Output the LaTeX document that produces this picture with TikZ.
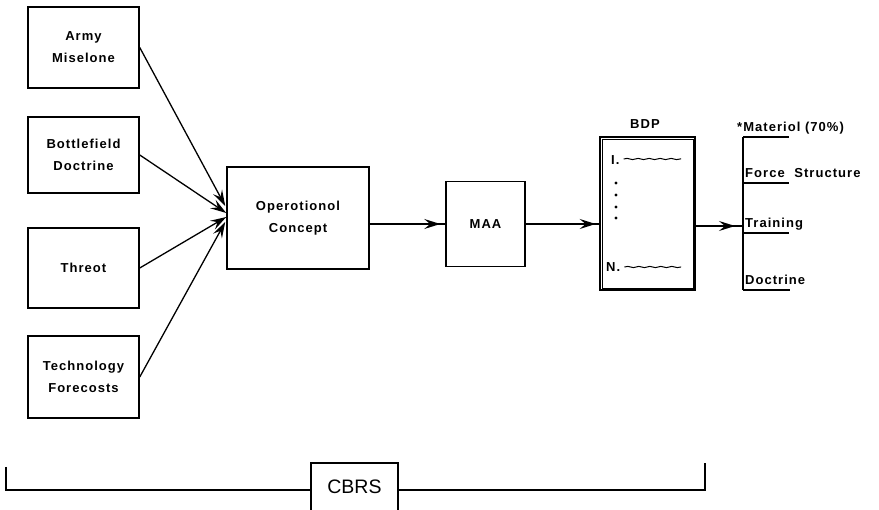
\documentclass[tikz,border=0pt]{standalone}
\usepackage{fontspec}
\setmainfont{Liberation Sans}
\newfontfamily\plotfont[LetterSpace=8]{Liberation Sans}
\usetikzlibrary{arrows.meta,calc,decorations.pathmorphing,decorations.markings}

\newcommand\lblfont{\plotfont\bfseries\fontsize{13pt}{22pt}\selectfont}

\begin{document}
\begin{tikzpicture}[x=1pt,y=-1pt,
  box/.style={draw, line width=1.5pt, inner sep=0pt, align=center, font=\lblfont},
  lbl/.style={inner sep=0pt, font=\lblfont},
  link/.style={line width=1.3pt},
  tip/.style={-{Stealth[length=16pt,width=10pt,inset=6pt]}},
  midtip/.style={postaction={decorate}, decoration={markings,
      mark=at position #1 with {\arrow{Stealth[length=16pt,width=10pt,inset=6pt]}}}},
  wave/.style={line width=1pt, decorate,
      decoration={snake, amplitude=0.6pt, segment length=11pt}}]
\useasboundingbox (0,0) rectangle (879,510);

% input boxes
\node[box, minimum width=111pt, minimum height=81pt] (army) at (83.5,47.5) {Army\\Miselone};
\node[box, minimum width=111pt, minimum height=76pt] (field) at (83.5,155) {Bottlefield\\Doctrine};
\node[box, minimum width=111pt, minimum height=80pt] (threat) at (83.5,268) {Threot};
\node[box, minimum width=111pt, minimum height=82pt] (tech) at (83.5,377) {Technology\\Forecosts};

% main chain
\node[box, minimum width=142pt, minimum height=102pt] (opc) at (298,218) {Operotionol\\Concept};
\node[box, minimum width=79pt, minimum height=85pt] (maa) at (485.5,224) {MAA};
\node[draw, line width=2.6pt, minimum width=95pt, minimum height=153pt, inner sep=0pt] (bdp) at (647.5,213.5) {};
\draw[line width=0.7pt] ($(bdp.north west)+(3.4,3.4)$) rectangle ($(bdp.south east)+(-3.4,-3.4)$);
\node[lbl, anchor=base] (bdplbl) at (645,129) {BDP};

% contents of the BDP list
\node[lbl, anchor=west] (item1) at (611,160) {I.};
\coordinate (item1end) at (681,159);
\draw[wave] ($(item1.east)+(4,-1)$) -- (item1end);
\foreach \yy in {183,195,207,218} \fill (616,\yy) circle (1.6pt);
\node[lbl, anchor=west] (itemN) at (606,267) {N.};
\coordinate (itemNend) at (681,267);
\draw[wave] ($(itemN.east)+(4,0)$) -- (itemNend);

% converging inputs
\draw[link, tip] (army.east) -- ($(opc.west)+(-1,-12)$);
\draw[link, tip] (field.east) -- ($(opc.west)+(0,-5)$);
\draw[link, tip] (threat.east) -- ($(opc.west)+(0,-1)$);
\draw[link, tip] (tech.east) -- ($(opc.west)+(-1,4)$);

% chain connectors
\draw[link, midtip=-5pt] (opc.east |- maa.west) -- (maa.west);
\draw[link, midtip=-3pt] (maa.east) -- (maa.east -| bdp.west);

% output branches
\coordinate (bartop) at (743,137);
\coordinate (barbot) at (743,290);
\coordinate (barin) at (743,226);
\coordinate (l2) at (743,183);
\coordinate (l3) at (743,233);
\draw[link] (bartop) -- (barbot);
\draw[link, midtip=-8pt] (bdp.east |- barin) -- (barin);
\draw[link] (bartop) -- ++(46,0);
\draw[link] (l2) -- ++(46,0);
\draw[link] (l3) -- ++(46,0);
\draw[link] (barbot) -- ++(47,0);
\node[lbl, anchor=base west] (mat) at (737,132) {*Materiol (70\%)};
\node[lbl, anchor=base west] (force) at (745,178) {Force\hspace{5pt} Structure};
\node[lbl, anchor=base west] (train) at (745,228) {Training};
\node[lbl, anchor=base west] (doct) at (745,285) {Doctrine};

% CBRS bracket
\node[inner sep=0pt, font=\fontsize{19.5pt}{22pt}\selectfont] (cbrs) at (354.5,487) {CBRS};
\coordinate (cl) at (311,490);
\coordinate (cr) at (398,490);
\coordinate (lend) at (6,467);
\coordinate (rend) at (705,463);
\draw[line width=1.4pt] (311,515) -- (311,463) -- (398,463) -- (398,515);
\draw[line width=1.4pt] (lend) -- (lend |- cl) -- (cl);
\draw[line width=1.4pt] (cr) -- (rend |- cr) -- (rend);
\end{tikzpicture}
\end{document}
